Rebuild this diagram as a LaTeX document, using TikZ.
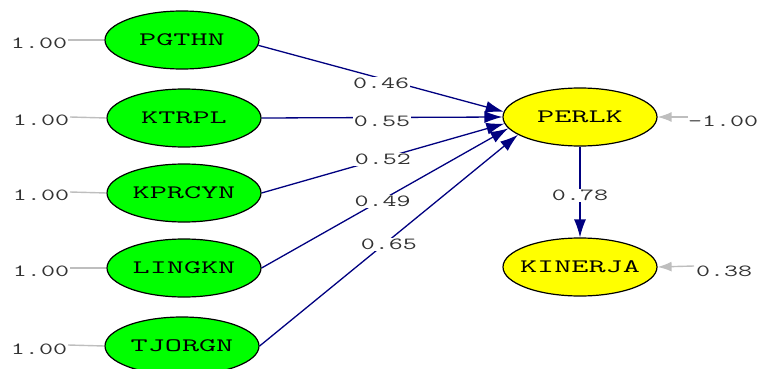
\documentclass[tikz,border=0pt]{standalone}
\usepackage{fontspec}
\usetikzlibrary{arrows.meta,shapes.geometric}
\newfontfamily\nodefont[FakeStretch=1.75]{Latin Modern Mono}
\newfontfamily\numfont[FakeStretch=1.6]{Latin Modern Mono}
\definecolor{navy}{RGB}{0,0,128}
\definecolor{errgray}{RGB}{190,190,190}
\definecolor{numgray}{RGB}{50,50,50}
\definecolor{lvgreen}{RGB}{0,255,0}
\definecolor{lvyellow}{RGB}{255,255,0}
\begin{document}
\begin{tikzpicture}[x=1pt,y=-1pt,
  var/.style={ellipse,draw=black,line width=1.2pt,minimum width=154pt,minimum height=58pt,inner ysep=0pt,inner xsep=-20pt,font=\nodefont\fontsize{19}{19}\selectfont},
  exo/.style={var,fill=lvgreen},
  endo/.style={var,fill=lvyellow},
  num/.style={text=numgray,font=\numfont\fontsize{17}{17}\selectfont,inner sep=1pt},
  coef/.style={num,fill=white},
  path/.style={draw=navy,line width=1.3pt,-{Latex[length=18pt,width=12pt]}},
  errline/.style={draw=errgray,line width=1.4pt},
  errarrow/.style={errline,-{Latex[length=14pt,width=10pt]}}]
\useasboundingbox (0,0) rectangle (757,369);
\node[exo] (pgthn) at (182,40) {PGTHN};
\node[exo] (ktrpl) at (184,118) {KTRPL};
\node[exo] (kprcyn) at (184,193) {KPRCYN};
\node[exo] (lingkn) at (184,268) {LINGKN};
\node[exo] (tjorgn) at (182,346) {TJORGN};
\node[endo] (perlk) at (580,117) {PERLK};
\node[endo] (kinerja) at (580,267) {KINERJA};
% error terms of exogenous variables
\node[num] (e1) at (39,43) {1.00};
\node[num] (e2) at (41,120) {1.00};
\node[num] (e3) at (41,195) {1.00};
\node[num] (e4) at (41,271) {1.00};
\node[num] (e5) at (39,349) {1.00};
\coordinate (c1) at (68,40);
\coordinate (c2) at (70,117);
\coordinate (c3) at (70,192);
\coordinate (c4) at (70,268);
\coordinate (c5) at (68,345);
\draw[errline] (c1) -- (pgthn.west);
\draw[errline] (c2) -- (ktrpl.west);
\draw[errline] (c3) -- (kprcyn.west);
\draw[errline] (c4) -- (lingkn.west);
\draw[errline] (c5) -- (tjorgn.west);
% paths
\draw[path] (pgthn.-4) -- node[coef,pos=0.5,yshift=-5pt] {0.46} (perlk.176);
\draw[path] (ktrpl.east) -- node[coef,pos=0.5,yshift=-4pt] {0.55} (perlk.west);
\draw[path] (kprcyn.east) -- node[coef,pos=0.5,yshift=-1pt] {0.52} (perlk.185);
\draw[path] (lingkn.east) -- node[coef,pos=0.49,yshift=-2pt] {0.49} (perlk.189);
\draw[path] (tjorgn.east) -- node[coef,pos=0.5,yshift=-4pt] {0.65} (perlk.196);
\draw[path] (perlk.south) -- node[coef,pos=0.54] {0.78} (kinerja.north);
% error terms of endogenous variables
\node[num,anchor=west] (ep) at (687,121) {-1.00};
\node[num,anchor=west] (ek) at (695,271) {0.38};
\coordinate (cp) at (688,117);
\coordinate (ck) at (694,266);
\draw[errarrow] (cp) -- (perlk.east);
\draw[errarrow] (ck) -- (kinerja.east);
\end{tikzpicture}
\end{document}
